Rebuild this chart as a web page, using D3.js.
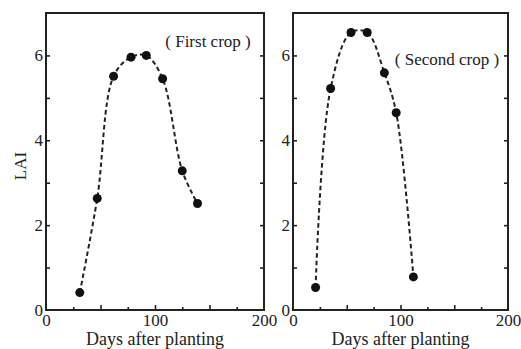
<!DOCTYPE html>
<html>
<head>
<meta charset="utf-8">
<script src="https://cdn.jsdelivr.net/npm/d3@7"></script>
<style>
  body { margin: 0; background: #fff; }
  svg text { font-family: "Liberation Serif", "DejaVu Serif", serif; fill: #222; }
</style>
</head>
<body>
<svg id="chart" width="521" height="349"></svg>
<script>
// Data
var firstDays = [31, 47, 62, 78, 92, 107, 125, 139];
var firstLai  = [0.41, 2.63, 5.51, 5.96, 6.0, 5.45, 3.28, 2.51];
var secondDays = [21, 35, 54, 69, 85, 96, 112];
var secondLai  = [0.53, 5.22, 6.54, 6.54, 5.59, 4.65, 0.78];
var xTickLabels = [0, 100, 200];
var yTickLabels = [0, 2, 4, 6];
var panelLabels = ["( First crop )", "( Second crop )"];

var svg = d3.select("#chart");
var plotTop = 13, plotBottom = 310;

// two panels: frame edges and label spot
var panels = [
  { x0: 46, x1: 264, days: firstDays, lai: firstLai, label: panelLabels[0], lx: 208, ly: 47 },
  { x0: 293, x1: 508, days: secondDays, lai: secondLai, label: panelLabels[1], lx: 447, ly: 65 }
];

var y = d3.scaleLinear().domain([0, 7]).range([plotBottom, plotTop]);

function styleText(sel) {
  sel.selectAll("text")
    .style("font-size", "17px")
    .style("font-family", "Liberation Serif, serif")
    .attr("fill", "#222");
}

panels.forEach(function(p) {
  var x = d3.scaleLinear().domain([0, 200]).range([p.x0, p.x1]);
  var g = svg.append("g");

  // inside ticks on x axis (minor every 25, major every 50)
  g.append("g")
    .attr("transform", "translate(0," + plotBottom + ")")
    .call(d3.axisBottom(x).tickValues(d3.range(25, 200, 50)).tickSize(-3).tickFormat(""))
    .call(a => a.select(".domain").remove());
  g.append("g")
    .attr("transform", "translate(0," + plotBottom + ")")
    .call(d3.axisBottom(x).tickValues([50, 100, 150]).tickSize(-5).tickFormat(""))
    .call(a => a.select(".domain").remove());

  // x labels
  g.append("g")
    .attr("transform", "translate(0," + plotBottom + ")")
    .call(d3.axisBottom(x).tickValues(xTickLabels).tickSize(0).tickPadding(4).tickFormat(d3.format("d")))
    .call(a => a.select(".domain").remove())
    .call(styleText);

  // y ticks inside, both sides
  g.append("g")
    .attr("transform", "translate(" + p.x0 + ",0)")
    .call(d3.axisLeft(y).tickValues(d3.range(1, 7)).tickSize(-4).tickFormat(""))
    .call(a => a.select(".domain").remove());
  g.append("g")
    .attr("transform", "translate(" + p.x1 + ",0)")
    .call(d3.axisRight(y).tickValues(d3.range(1, 7)).tickSize(-4).tickFormat(""))
    .call(a => a.select(".domain").remove());

  // y labels
  g.append("g")
    .attr("transform", "translate(" + p.x0 + ",0)")
    .call(d3.axisLeft(y).tickValues(yTickLabels).tickSize(0).tickPadding(3).tickFormat(d3.format("d")))
    .call(a => a.select(".domain").remove())
    .call(styleText);

  g.selectAll(".tick line").attr("stroke", "#222").attr("stroke-width", 1.6);

  // frame
  g.append("rect")
    .attr("x", p.x0).attr("y", plotTop)
    .attr("width", p.x1 - p.x0).attr("height", plotBottom - plotTop)
    .attr("fill", "none").attr("stroke", "#222").attr("stroke-width", 2);

  var pts = p.days.map((d, i) => [d, p.lai[i]]);

  var line = d3.line()
    .x(d => x(d[0])).y(d => y(d[1]))
    .curve(d3.curveCatmullRom.alpha(0.5));

  g.append("path")
    .datum(pts)
    .attr("d", line)
    .attr("fill", "none")
    .attr("stroke", "#222")
    .attr("stroke-width", 2)
    .attr("stroke-dasharray", "4.5,3");

  g.selectAll("circle")
    .data(pts)
    .enter().append("circle")
    .attr("cx", d => x(d[0]))
    .attr("cy", d => y(d[1]))
    .attr("r", 4.5)
    .attr("fill", "#111");

  g.append("text")
    .attr("x", p.lx).attr("y", p.ly)
    .attr("text-anchor", "middle")
    .style("font-size", "17px")
    .text(p.label);

  g.append("text")
    .attr("x", (p.x0 + p.x1) / 2).attr("y", 345)
    .attr("text-anchor", "middle")
    .style("font-size", "18px")
    .text("Days after planting");
});

// y axis title
svg.append("text")
  .attr("transform", "translate(26,166) rotate(-90)")
  .attr("text-anchor", "middle")
  .style("font-size", "17px")
  .text("LAI");
</script>
</body>
</html>
